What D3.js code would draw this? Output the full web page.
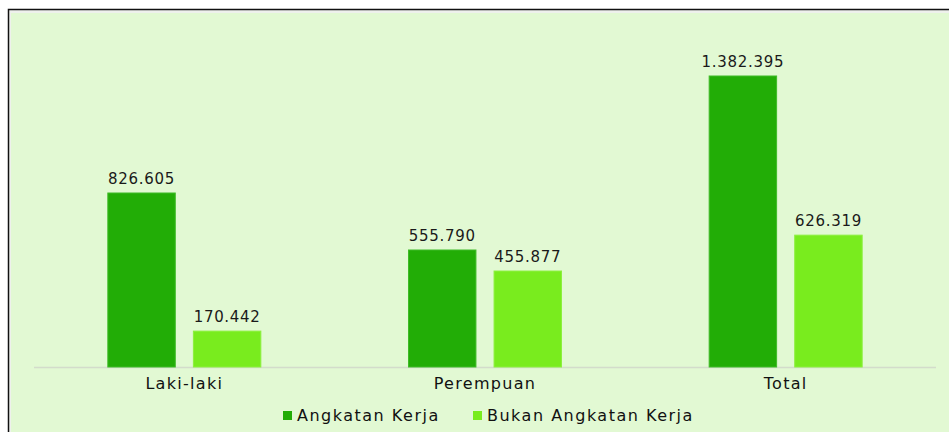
<!DOCTYPE html>
<html>
<head>
<meta charset="utf-8">
<script src="https://cdn.jsdelivr.net/npm/d3@7"></script>
<style>
  body { margin: 0; background: #fff; }
  svg { display: block; }
</style>
</head>
<body>
<div id="chart-area"></div>
<script>

// data
let categories = ["Laki-laki", "Perempuan", "Total"];
let seriesNames = ["Angkatan Kerja", "Bukan Angkatan Kerja"];
let angkatanKerja = [826605, 555790, 1382395];
let bukanAngkatanKerja = [170442, 455877, 626319];
let colors = ["#22ad06", "#79ec1e"];

let W = 949, H = 432;

let svg = d3.select("#chart-area").append("svg")
	.attr("width", W)
	.attr("height", H);

// frame + panel
svg.append("rect")
	.attr("x", 9).attr("y", 10)
	.attr("width", W).attr("height", H)
	.attr("fill", "#eef1ec");
svg.append("rect")
	.attr("x", 11).attr("y", 13)
	.attr("width", W).attr("height", H)
	.attr("fill", "#e2f9d3");
svg.append("path")
	.attr("d", "M8.5," + H + "V9.5H" + W)
	.attr("fill", "none")
	.attr("stroke", "#111")
	.attr("stroke-width", 1.5);

let margin = {left: 34, right: 13, base: 367};

let x0 = d3.scaleBand()
	.domain(categories)
	.range([margin.left, W - margin.right])
	.paddingInner(0)
	.paddingOuter(0);

let x1 = d3.scaleBand()
	.domain(seriesNames)
	.range([x0.bandwidth() / 2 - 76.5, x0.bandwidth() / 2 + 76.5])
	.paddingInner(18 / 85);

let y = d3.scaleLinear()
	.domain([0, 1382395])
	.range([margin.base, 76]);

// axis line
svg.append("line")
	.attr("x1", margin.left).attr("x2", W - margin.right)
	.attr("y1", margin.base + 0.5).attr("y2", margin.base + 0.5)
	.attr("stroke", "#d3dccb")
	.attr("stroke-width", 1.5);

let rows = categories.map((c, i) => ({
	cat: c,
	vals: [angkatanKerja[i], bukanAngkatanKerja[i]]
}));

let groups = svg.selectAll(".grp")
	.data(rows)
	.enter().append("g")
	.attr("class", "grp")
	.attr("transform", d => "translate(" + x0(d.cat) + ",0)");

let fmt = v => d3.format(",")(v).replace(/,/g, ".");

groups.selectAll("rect")
	.data(d => d.vals.map((v, j) => ({s: seriesNames[j], v: v, j: j})))
	.enter().append("rect")
	.attr("x", d => x1(d.s))
	.attr("y", d => y(d.v))
	.attr("width", x1.bandwidth())
	.attr("height", d => margin.base - y(d.v))
	.attr("fill", d => colors[d.j])
	.attr("stroke", d => d.j === 0 ? "#3fbb28" : "#8cf03e")
	.attr("stroke-width", 1);

groups.selectAll(".val")
	.data(d => d.vals.map((v, j) => ({s: seriesNames[j], v: v, j: j})))
	.enter().append("text")
	.attr("class", "val")
	.attr("x", d => x1(d.s) + x1.bandwidth() / 2)
	.attr("y", d => y(d.v) - 9)
	.attr("text-anchor", "middle")
	.attr("font-family", "DejaVu Sans, Verdana, sans-serif")
	.attr("font-size", 15)
	.attr("letter-spacing", 0.7)
	.attr("fill", "#1a1a1a")
	.text(d => fmt(d.v));

// category labels
svg.selectAll(".cat")
	.data(categories)
	.enter().append("text")
	.attr("class", "cat")
	.attr("x", d => x0(d) + x0.bandwidth() / 2)
	.attr("y", 389)
	.attr("text-anchor", "middle")
	.attr("font-family", "DejaVu Sans, sans-serif")
	.attr("font-size", 16)
	.attr("letter-spacing", 1.3)
	.attr("fill", "#111")
	.text(d => d);

// legend
let legendX = [283, 473];
let legend = svg.selectAll(".leg")
	.data(seriesNames)
	.enter().append("g")
	.attr("class", "leg")
	.attr("transform", (d, i) => "translate(" + legendX[i] + ",411)");
legend.append("rect")
	.attr("width", 9).attr("height", 9)
	.attr("fill", (d, i) => colors[i]);
legend.append("text")
	.attr("x", 14)
	.attr("y", 9.5)
	.attr("font-family", "DejaVu Sans, sans-serif")
	.attr("font-size", 16)
	.attr("letter-spacing", 1.5)
	.attr("fill", "#111")
	.text(d => d);

</script>
</body>
</html>
